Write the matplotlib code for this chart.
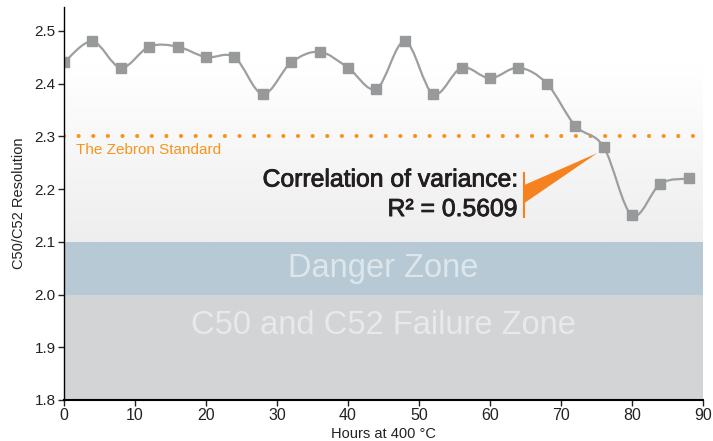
import matplotlib.pyplot as plt
from matplotlib.path import Path
from matplotlib.patches import PathPatch, Polygon
from matplotlib.colors import LinearSegmentedColormap
import matplotlib.patheffects as pe
import numpy as np

# dados
horas = [0, 4, 8, 12, 16, 20, 24, 28, 32, 36, 40, 44,
         48, 52, 56, 60, 64, 68, 72, 76, 80, 84, 88]
resolucao = [2.44, 2.48, 2.43, 2.47, 2.47, 2.45, 2.45, 2.38, 2.44, 2.46, 2.43, 2.39,
             2.48, 2.38, 2.43, 2.41, 2.43, 2.40, 2.32, 2.28, 2.15, 2.21, 2.22]

padrao_zebron = 2.3
zona_perigo = (2.0, 2.1)
zona_falha = (1.8, 2.0)
r2 = 0.5609

x_ticks = [0, 10, 20, 30, 40, 50, 60, 70, 80, 90]
y_ticks = [1.8, 1.9, 2.0, 2.1, 2.2, 2.3, 2.4, 2.5]

laranja = '#f7941d'
laranja_seta = '#f5821f'
cinza_linha = '#9d9ea0'
cinza_marc = '#98999b'


def caminho_suave(x, y):
    '''curva suave (catmull-rom) passando pelos pontos'''
    x = np.asarray(x, float)
    y = np.asarray(y, float)
    verts = [(x[0], y[0])]
    codes = [Path.MOVETO]
    n = len(x)
    for i in range(n - 1):
        x0, y0 = (x[i - 1], y[i - 1]) if i > 0 else (x[i], y[i])
        x3, y3 = (x[i + 2], y[i + 2]) if i + 2 < n else (x[i + 1], y[i + 1])
        c1 = (x[i] + (x[i + 1] - x0) / 6, y[i] + (y[i + 1] - y0) / 6)
        c2 = (x[i + 1] - (x3 - x[i]) / 6, y[i + 1] - (y3 - y[i]) / 6)
        verts += [c1, c2, (x[i + 1], y[i + 1])]
        codes += [Path.CURVE4] * 3
    return Path(verts, codes)


plt.rcParams['font.family'] = ['Liberation Sans', 'DejaVu Sans']

fig = plt.figure(figsize=(7.13, 4.41), dpi=100)
ax = fig.add_axes([0.0898, 0.093, 0.8962, 0.891])

ymax = 2.545
ax.set_xlim(0, 90)
ax.set_ylim(1.8, ymax)

# fundo em degrade (branco no topo, cinza claro em baixo)
grad = np.linspace(0, 1, 200).reshape(-1, 1)
grad = np.clip((grad - 0.25) / 0.75, 0, 1)
cmap_fundo = LinearSegmentedColormap.from_list('g', ['#ffffff', '#eeeeee'])
ax.imshow(grad, extent=[0, 90, zona_perigo[1], ymax], origin='upper', aspect='auto',
          cmap=cmap_fundo, zorder=0, interpolation='bilinear')

# zonas
ax.axhspan(zona_perigo[0], zona_perigo[1], color='#b7c9d4', zorder=1, lw=0)
ax.axhspan(zona_falha[0], zona_falha[1], color='#d3d4d6', zorder=1, lw=0)
ax.text(45, 2.05, 'Danger Zone', ha='center', va='center', fontsize=23.5,
        color='#dde6eb', zorder=2)
ax.text(45, 1.942, 'C50 and C52 Failure Zone', ha='center', va='center', fontsize=23.5,
        color='#e9e9ea', zorder=2)

# padrao zebron
ax.axhline(padrao_zebron, color=laranja, lw=3, ls=(0, (0.01, 3.5)),
           dash_capstyle='round', zorder=3)
ax.text(1.7, padrao_zebron - 0.012, 'The Zebron Standard', color=laranja, fontsize=11,
        ha='left', va='top', zorder=3)

# curva
ax.add_patch(PathPatch(caminho_suave(horas, resolucao), fill=False,
                       edgecolor=cinza_linha, lw=1.6, zorder=4))
ax.plot(horas, resolucao, 's', color=cinza_marc, markersize=6.5, zorder=5)

# anotacao
contorno = [pe.withStroke(linewidth=0.6, foreground='#231f20')]
ax.text(63.9, 2.218, 'Correlation of variance:', ha='right', va='center',
        fontsize=17.8, color='#231f20', zorder=6, path_effects=contorno)
ax.text(63.9, 2.162, 'R² = %.4f' % r2, ha='right', va='center',
        fontsize=17.8, color='#231f20', zorder=6, path_effects=contorno)
ax.plot([64.8, 64.8], [2.147, 2.231], color=laranja_seta, lw=1.5, zorder=6)
ax.add_patch(Polygon([(64.9, 2.208), (75.1, 2.268), (64.9, 2.174)],
                     closed=True, facecolor=laranja_seta, edgecolor='none', zorder=6))

# eixos
for s in ['top', 'right']:
    ax.spines[s].set_visible(False)
ax.spines['left'].set_linewidth(1.0)
ax.spines['bottom'].set_linewidth(1.5)
ax.spines['left'].set_zorder(7)
ax.spines['bottom'].set_zorder(7)
ax.set_xticks(x_ticks)
ax.set_yticks(y_ticks)
ax.set_yticklabels(['%.1f' % v for v in y_ticks])
ax.tick_params(axis='both', length=4, width=1, colors='#222222', pad=2)
ax.tick_params(axis='y', labelsize=11)
ax.tick_params(axis='x', labelsize=11.5)
ax.set_xlabel('Hours at 400 °C', fontsize=10.5, color='#222222', labelpad=3)
ax.set_ylabel('C50/C52 Resolution', fontsize=10.5, color='#222222', labelpad=6)

fig.savefig('out.png', dpi=100)
